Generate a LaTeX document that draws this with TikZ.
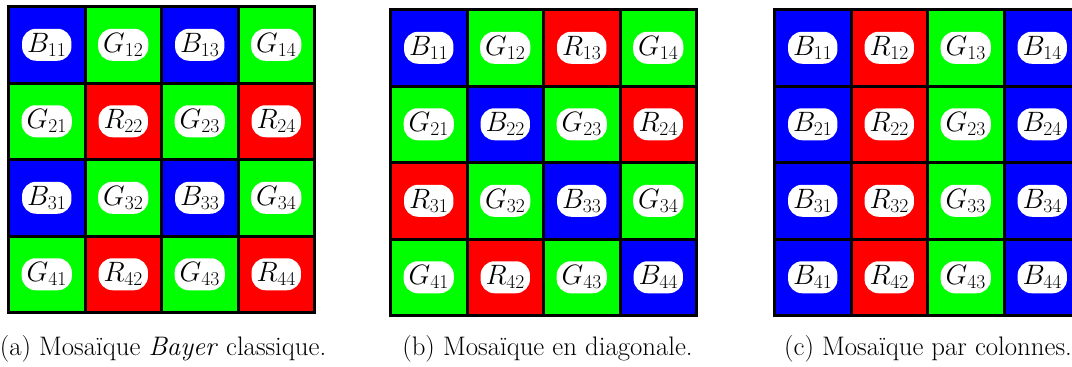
\RequirePackage{fix-cm}
\documentclass[tikz,border=0pt]{standalone}
\definecolor{cB}{RGB}{0,0,255}
\definecolor{cG}{RGB}{0,255,0}
\definecolor{cR}{RGB}{255,0,0}
\newcommand\drawmosaic[4]{%
  \foreach \r/\c/\k in {#4}{
    \node[cell, fill=c\k] (#1\r\c) at ({#2+76.5*(\c-0.5)},{#3+76.5*(\r-0.5)}) {};
    \node[lab] (l#1\r\c) at (#1\r\c) {$\k_{\r\c}$};
  }
  \foreach \r/\c/\k in {#4}{
    \draw[border] (#1\r\c.north west) rectangle (#1\r\c.south east);
  }
}
\begin{document}
\begin{tikzpicture}[x=1pt,y=-1pt,
  cell/.style={minimum size=76.5pt, inner sep=0pt, outer sep=0pt},
  border/.style={draw=black, line width=3pt},
  lab/.style={fill=white, rounded corners=14pt, inner xsep=5pt, inner ysep=0pt, minimum height=32pt, font=\fontsize{28}{30}\selectfont},
  captxt/.style={anchor=base, inner sep=0pt, font=\fontsize{26.8}{30}\selectfont}]
\path[clip] (0,0) rectangle (1072,367);
\drawmosaic{a}{8.5}{6.5}{1/1/B,1/2/G,1/3/B,1/4/G,2/1/G,2/2/R,2/3/G,2/4/R,3/1/B,3/2/G,3/3/B,3/4/G,4/1/G,4/2/R,4/3/G,4/4/R}
\drawmosaic{b}{390.5}{9.5}{1/1/B,1/2/G,1/3/R,1/4/G,2/1/G,2/2/B,2/3/G,2/4/R,3/1/R,3/2/G,3/3/B,3/4/G,4/1/G,4/2/R,4/3/G,4/4/B}
\drawmosaic{c}{774.5}{9.5}{1/1/B,1/2/R,1/3/G,1/4/B,2/1/B,2/2/R,2/3/G,2/4/B,3/1/B,3/2/R,3/3/G,3/4/B,4/1/B,4/2/R,4/3/G,4/4/B}
\node[captxt] (capa) at (163,355) {(a) Mosaïque \textit{Bayer} classique.};
\node[captxt] (capb) at (547.5,355) {(b) Mosaïque en diagonale.};
\node[captxt] (capc) at (928,355) {(c) Mosaïque par colonnes.};
\end{tikzpicture}
\end{document}
